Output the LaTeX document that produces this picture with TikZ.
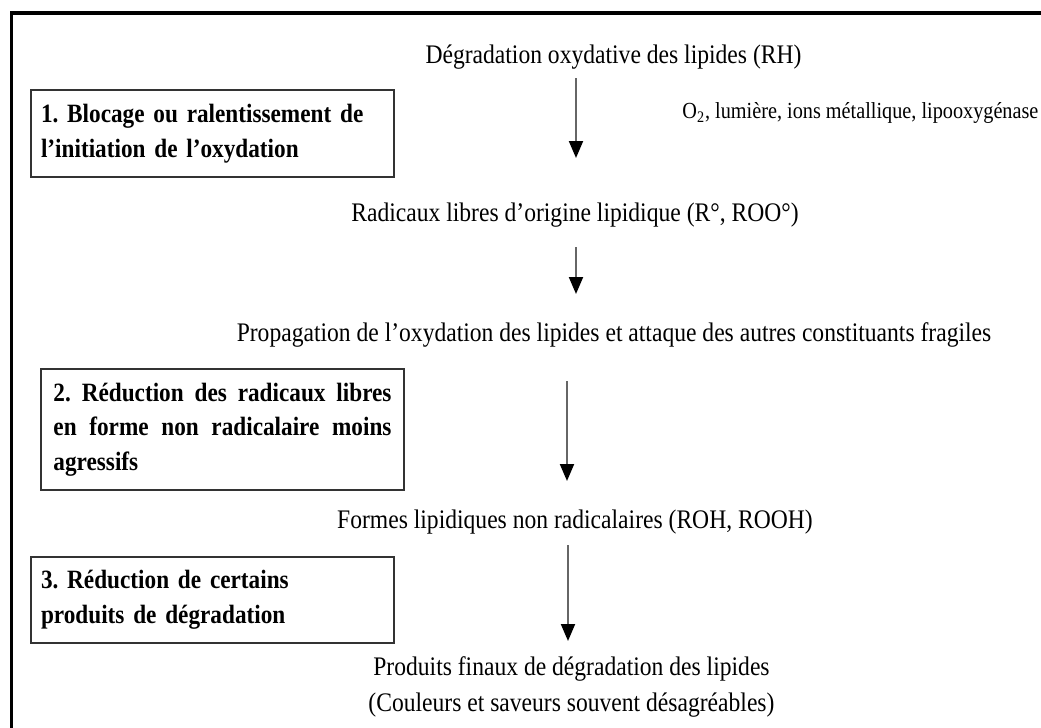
\documentclass[tikz,border=0pt]{standalone}
\usepackage{fontspec}
\setmainfont{Liberation Serif}[FakeStretch=0.88]
\usetikzlibrary{arrows.meta}
\frenchspacing
\tikzset{
  lbl/.style={inner sep=0pt, anchor=base, font=\fontsize{13.4}{18}\selectfont},
  small/.style={inner sep=0pt, anchor=base west, font=\fontsize{11.5}{12}\selectfont},
  box/.style={draw=black!80, line width=1pt, anchor=north west, inner xsep=5pt, inner ysep=0pt,
    minimum width=181.5pt, align=left, font=\fontsize{13.2}{17.3}\bfseries\selectfont},
  flow/.style={draw=black!60, line width=1pt, -{Triangle[width=7pt,length=8.5pt,color=black]}},
  frame/.style={draw=black, line width=1.6pt}
}
\begin{document}
\begin{tikzpicture}[x=0.5pt,y=-0.5pt]
\useasboundingbox (0,0) rectangle (1041,728);
\draw[frame] (11.5,740) -- (11.5,13) -- (1050,13);

% text nodes
\node[lbl] (t1) at (613.5,63) {Dégradation oxydative des lipides (RH)};
\node[small] (cond) at (682,119) {O\textsubscript{2}, lumière, ions métallique, lipooxygénase};
\node[lbl] (t2) at (575,221) {Radicaux libres d’origine lipidique (R°, ROO°)};
\node[lbl] (t3) at (614,341) {Propagation de l’oxydation des lipides et attaque des autres constituants fragiles};
\node[lbl] (t4) at (575,528) {Formes lipidiques non radicalaires (ROH, ROOH)};
\node[lbl, align=center, anchor=north] (t5) at (571.5,656) {Produits finaux de dégradation des lipides\\(Couleurs et saveurs souvent désagréables)};

% boxes
\node[box, text width=171.5pt, minimum height=43.5pt] (b1) at (30,89)
  {1. Blocage ou ralentissement de\\l’initiation de l’oxydation};
\node[box, text width=169pt, minimum height=60.5pt, align=justify] (b2) at (40,368)
  {2. Réduction des radicaux libres\linebreak en forme non radicalaire moins\linebreak agressifs};
\node[box, text width=171.5pt, minimum height=43pt] (b3) at (30,556)
  {3. Réduction de certains\\produits de dégradation};

% arrows
\coordinate (a1s) at (576,78);  \coordinate (a1e) at (576,158);
\coordinate (a2s) at (576,247); \coordinate (a2e) at (576,294);
\coordinate (a3s) at (567,381); \coordinate (a3e) at (567,481);
\coordinate (a4s) at (568,545); \coordinate (a4e) at (568,641);
\draw[flow] (a1s) -- (a1e);
\draw[flow] (a2s) -- (a2e);
\draw[flow] (a3s) -- (a3e);
\draw[flow] (a4s) -- (a4e);
\end{tikzpicture}
\end{document}
